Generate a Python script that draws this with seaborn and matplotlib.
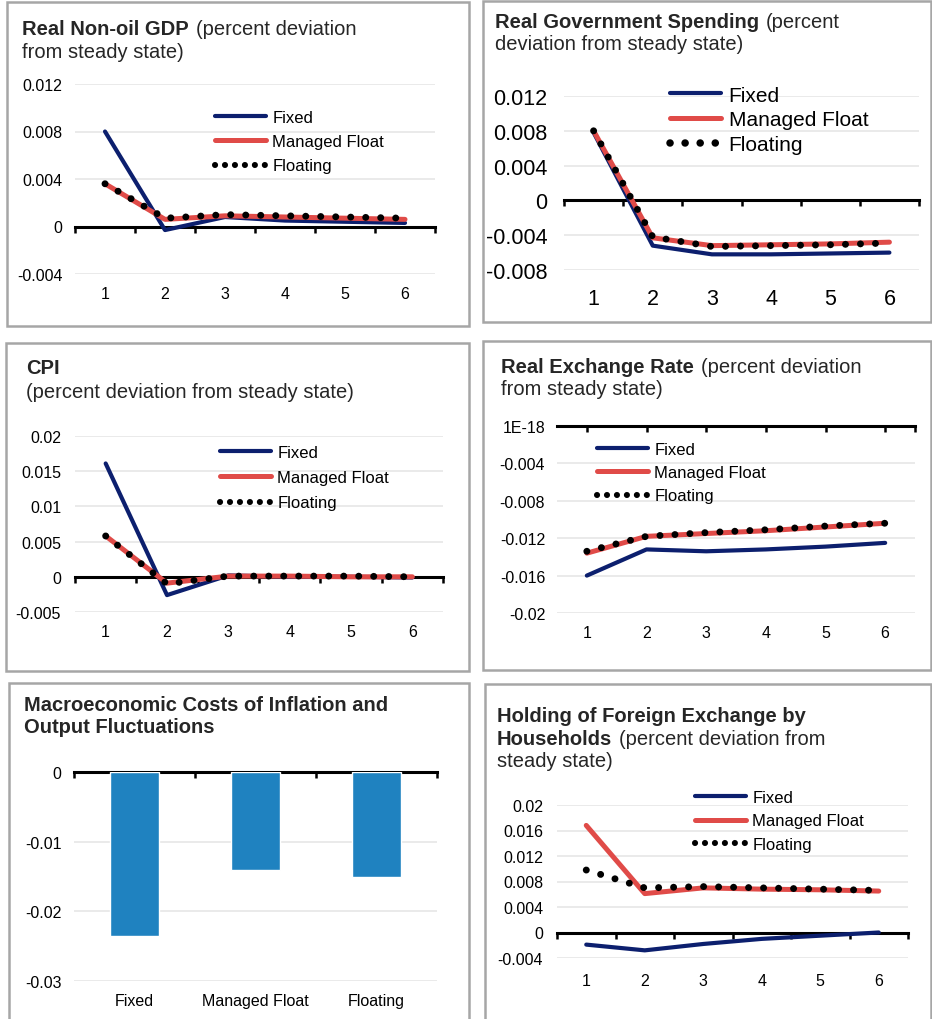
import numpy as np
import pandas as pd
import matplotlib
matplotlib.use("Agg")
import matplotlib.pyplot as plt
from matplotlib.lines import Line2D
from matplotlib.patches import Rectangle
import seaborn as sns

# values
periods = [1, 2, 3, 4, 5, 6]
regimes = ["Fixed", "Managed Float", "Floating"]

gdp_fixed = [0.0080, -0.0003, 0.0008, 0.0005, 0.0004, 0.0003]
gdp_managed = [0.0036, 0.0006, 0.0009, 0.0008, 0.0007, 0.0006]
gdp_floating = [0.0036, 0.0007, 0.0010, 0.0009, 0.0008, 0.0007]

gov_fixed = [0.0078, -0.0052, -0.0062, -0.0062, -0.0061, -0.0060]
gov_managed = [0.0080, -0.0043, -0.0052, -0.0051, -0.0050, -0.0048]
gov_floating = [0.0080, -0.0042, -0.0053, -0.0052, -0.0051, -0.0049]

cpi_fixed = [0.0161, -0.0026, 0.0002, 0.0000, 0.0000, -0.0001]
cpi_managed = [0.0058, -0.0009, 0.0001, 0.0001, 0.0000, 0.0000]
cpi_floating = [0.0058, -0.0010, 0.0001, 0.0001, 0.0001, 0.0000]

rer_fixed = [-0.0160, -0.0132, -0.0134, -0.0132, -0.0129, -0.0125]
rer_managed = [-0.0136, -0.0118, -0.0115, -0.0112, -0.0108, -0.0104]
rer_floating = [-0.0134, -0.0118, -0.0114, -0.0111, -0.0107, -0.0104]

fx_fixed = [-0.0019, -0.0028, -0.0018, -0.0010, -0.0005, 0.0000]
fx_managed = [0.0168, 0.0061, 0.0070, 0.0068, 0.0067, 0.0065]
fx_floating = [0.0098, 0.0070, 0.0072, 0.0070, 0.0068, 0.0066]

cost_values = [-0.0236, -0.0141, -0.0150]

# tick labels
gdp_yticks = [0.012, 0.008, 0.004, 0, -0.004]
gdp_ylabels = ["0.012", "0.008", "0.004", "0", "-0.004"]
gov_yticks = [0.012, 0.008, 0.004, 0, -0.004, -0.008]
gov_ylabels = ["0.012", "0.008", "0.004", "0", "-0.004", "-0.008"]
cpi_yticks = [0.02, 0.015, 0.01, 0.005, 0, -0.005]
cpi_ylabels = ["0.02", "0.015", "0.01", "0.005", "0", "-0.005"]
rer_yticks = [0, -0.004, -0.008, -0.012, -0.016, -0.02]
rer_ylabels = ["1E-18", "-0.004", "-0.008", "-0.012", "-0.016", "-0.02"]
fx_yticks = [0.02, 0.016, 0.012, 0.008, 0.004, 0, -0.004]
fx_ylabels = ["0.02", "0.016", "0.012", "0.008", "0.004", "0", "-0.004"]
cost_yticks = [0, -0.01, -0.02, -0.03]
cost_ylabels = ["0", "-0.01", "-0.02", "-0.03"]

W, H = 932, 1020
sns.set_theme(style="white")
plt.rcParams["font.family"] = ["Liberation Sans", "DejaVu Sans"]

NAVY = "#0C1F6E"
RED = "#E04B48"
BAR = "#1F82C0"
GRID = "#E6E6E6"
BOX = "#A6A6A6"
TITLE_FS = 14.5
FIXED_LW = 3.0
MANAGED_LW = 3.6
DOT_LW = 5.0

fig = plt.figure(figsize=(W / 100, H / 100), dpi=100)
renderer = fig.canvas.get_renderer()


def fx(x):
    return x / W


def fy(y):
    return 1 - y / H


def make_axes(left, top, right, bottom):
    return fig.add_axes([fx(left), fy(bottom), (right - left) / W, (bottom - top) / H])


def box(left, top, right, bottom):
    fig.patches.append(Rectangle((fx(left), fy(bottom)), (right - left) / W, (bottom - top) / H,
                                 transform=fig.transFigure, fill=False, edgecolor=BOX, lw=1.8))


def title(x, lines):
    # lines: list of (baseline_y, bold part, normal part)
    for y, bold, normal in lines:
        xpos = fx(x)
        if bold:
            t = fig.text(xpos, fy(y), bold, fontsize=TITLE_FS, fontweight="bold", va="baseline", ha="left")
            xpos = t.get_window_extent(renderer).x1 / W + 7 / W
        if normal:
            fig.text(xpos, fy(y), normal, fontsize=TITLE_FS, va="baseline", ha="left")


def style_axis(ax, xlim, ylim, yticks, ylabels, zero_ticks, tick_fs, ypad, xpad, centers, names):
    ax.set_xlim(*xlim)
    ax.set_ylim(*ylim)
    ax.set_yticks(yticks, ylabels)
    ax.tick_params(axis="y", length=0, pad=ypad, labelsize=tick_fs, colors="black")
    ax.yaxis.grid(True, color=GRID, lw=1.2)
    ax.xaxis.grid(False)
    for s in ["left", "right", "top"]:
        ax.spines[s].set_visible(False)
    ax.spines["bottom"].set_position(("data", 0))
    ax.spines["bottom"].set_color("black")
    ax.spines["bottom"].set_linewidth(2.2)
    ax.set_xticks(zero_ticks)
    ax.tick_params(axis="x", bottom=True, direction="out", length=4, width=1.8, color="black",
                   labelbottom=False)
    sec = ax.secondary_xaxis("bottom")
    sec.set_xticks(centers, names)
    sec.tick_params(length=0, pad=xpad, labelsize=tick_fs, colors="black")
    sec.spines["bottom"].set_visible(False)
    ax.set_xlabel("")
    ax.set_ylabel("")
    ax.set_facecolor("none")


def line_panel(ax, fixed, managed, floating, ylim, yticks, ylabels, tick_fs, ypad, xpad,
               leg_xy, leg_fs, leg_pitch, leg_dot, zero_ticks=None):
    sns.lineplot(x=periods, y=fixed, color=NAVY, lw=FIXED_LW, ax=ax, zorder=3, solid_capstyle="round")
    sns.lineplot(x=periods, y=managed, color=RED, lw=MANAGED_LW, ax=ax, zorder=3, solid_capstyle="round")
    sns.lineplot(x=periods, y=floating, color="black", lw=DOT_LW, ax=ax, zorder=4,
                 linestyle=(0, (0.01, 2.15)), dash_capstyle="round")
    if zero_ticks is None:
        zero_ticks = [p - 0.5 for p in periods] + [periods[-1] + 0.5]
    style_axis(ax, (0.5, 6.5), ylim, yticks, ylabels, zero_ticks, tick_fs, ypad, xpad,
               periods, [str(p) for p in periods])
    dot_lw, dot_gap = leg_dot
    handles = [
        Line2D([], [], color=NAVY, lw=FIXED_LW, solid_capstyle="round"),
        Line2D([], [], color=RED, lw=MANAGED_LW, solid_capstyle="round"),
        Line2D([], [], color="black", lw=dot_lw, linestyle=(0, (0.01, dot_gap)), dash_capstyle="round"),
    ]
    fs_px = leg_fs * 100 / 72
    ls = (leg_pitch * 0.72 - 0.94 * leg_fs) / leg_fs
    anchor = (fx(leg_xy[0] + 2), fy(leg_xy[1] - 0.5 * fs_px))
    ax.legend(handles, regimes, loc="upper left", bbox_to_anchor=anchor, bbox_transform=fig.transFigure,
              frameon=False, fontsize=leg_fs, borderpad=0, borderaxespad=0,
              handlelength=37 / leg_fs, handletextpad=0.35, labelspacing=ls, labelcolor="black")


SMALL_DOTS = (4.4, 1.62)
BIG_DOTS = (5.4, 2.0)

# panel frames
box(7, 3, 469, 327)
box(483, 2, 931, 323)
box(6, 344, 469, 672)
box(483, 342, 931, 671)
box(9, 684, 469, 1030)
box(485, 685, 931, 1030)

# Real non-oil GDP
ax1 = make_axes(75, 85, 435, 275)
line_panel(ax1, gdp_fixed, gdp_managed, gdp_floating, (-0.004, 0.012), gdp_yticks, gdp_ylabels,
           11.5, 9, 9, (213, 119), 12, 25, SMALL_DOTS)
title(22, [(35, "Real Non-oil GDP", "(percent deviation"), (58, "", "from steady state)")])

# Real government spending
ax2 = make_axes(564, 97, 919, 271)
line_panel(ax2, gov_fixed, gov_managed, gov_floating, (-0.008, 0.012), gov_yticks, gov_ylabels,
           15.5, 12, 13, (668, 97), 15, 25.5, BIG_DOTS)
title(495, [(28, "Real Government Spending", "(percent"), (50, "", "deviation from steady state)")])

# CPI
ax3 = make_axes(75, 437, 443, 613)
line_panel(ax3, cpi_fixed, cpi_managed, cpi_floating, (-0.005, 0.02), cpi_yticks, cpi_ylabels,
           11.5, 10, 9, (218, 454), 12, 26, SMALL_DOTS)
title(26, [(374, "CPI", ""), (398, "", "(percent deviation from steady state)")])

# Real exchange rate
ax4 = make_axes(557, 427, 915, 614)
line_panel(ax4, rer_fixed, rer_managed, rer_floating, (-0.02, 0), rer_yticks, rer_ylabels,
           11.5, 8.5, 9, (595, 451), 12, 24, SMALL_DOTS, zero_ticks=periods + [6.5])
title(501, [(373, "Real Exchange Rate", "(percent deviation"), (395, "", "from steady state)")])

# Macroeconomic costs (bars)
ax5 = make_axes(74, 773, 437, 982)
sns.barplot(x=regimes, y=cost_values, color=BAR, saturation=1, width=0.4, ax=ax5, zorder=3)
style_axis(ax5, (-0.5, 2.5), (-0.03, 0), cost_yticks, cost_ylabels, [-0.5, 0.5, 1.5, 2.5],
           11.5, 9, 9, [0, 1, 2], regimes)
title(24, [(711, "Macroeconomic Costs of Inflation and", ""), (733, "Output Fluctuations", "")])

# Holding of foreign exchange by households
ax6 = make_axes(557, 806, 908, 959)
line_panel(ax6, fx_fixed, fx_managed, fx_floating, (-0.004, 0.02), fx_yticks, fx_ylabels,
           11.5, 10, 11, (693, 799), 12, 24.5, SMALL_DOTS)
title(497, [(722, "Holding of Foreign Exchange by", ""),
            (745, "Households", "(percent deviation from"),
            (767, "", "steady state)")])

fig.savefig("out.png", dpi=100, facecolor="white")
